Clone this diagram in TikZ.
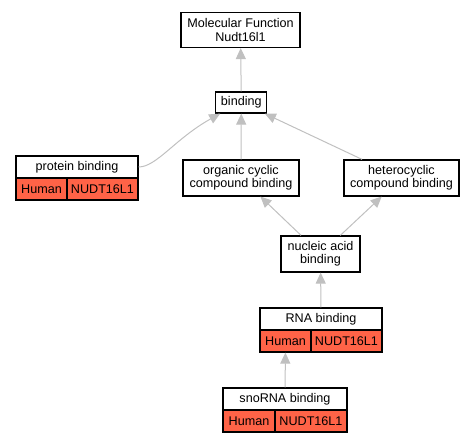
\documentclass[tikz,border=0pt]{standalone}
\usepackage{fontspec}
\setmainfont{Liberation Sans}
\usetikzlibrary{arrows.meta}
\definecolor{cellred}{HTML}{FF6347}
\definecolor{edgegray}{RGB}{192,192,192}
\begin{document}
\begin{tikzpicture}[x=1pt,y=-1pt,
		termbox/.style={draw,fill=white,line width=1.2pt,inner sep=0pt,align=center,
		font=\fontsize{12.6}{13.2}\selectfont},
		genecell/.style={termbox,fill=cellred,minimum height=22pt},
		isa/.style={draw=edgegray,line width=1pt,-{Triangle[length=11pt,width=10pt]}}
		]
	\useasboundingbox (0,0) rectangle (475,443);

	\node[termbox,minimum width=119pt,minimum height=35pt](G0) at (240.5,30){Molecular Function\\Nudt16l1};
	\node[termbox,minimum width=51pt,minimum height=21pt](G1) at (241.3,102.5){binding};
	\node[termbox,minimum width=122pt,minimum height=22pt](G2) at (77,167){protein binding};
	\node[genecell,minimum width=51pt](G2h) at (41.5,189){Human};
	\node[genecell,minimum width=71pt](G2g) at (102.5,189){NUDT16L1};
	\node[termbox,minimum width=116pt,minimum height=36pt](G3) at (241,178){organic cyclic\\compound binding};
	\node[termbox,minimum width=115pt,minimum height=36pt](G4) at (401.5,178){heterocyclic\\compound binding};
	\node[termbox,minimum width=79pt,minimum height=36pt](G5) at (320.5,254){nucleic acid\\binding};
	\node[termbox,minimum width=122pt,minimum height=22pt](G6) at (321,319){RNA binding};
	\node[genecell,minimum width=51pt](G6h) at (285.5,341){Human};
	\node[genecell,minimum width=71pt](G6g) at (346.5,341){NUDT16L1};
	\node[termbox,minimum width=124pt,minimum height=22pt](G7) at (285,399){snoRNA binding};
	\node[genecell,minimum width=52pt](G7h) at (249,421){Human};
	\node[genecell,minimum width=72pt](G7g) at (311,421){NUDT16L1};

	\draw[isa] (G1) -- (G0);
	\draw[isa] (G2.east) .. controls +(18,0) and +(-45,25) .. ([xshift=5pt]G1.south west);
	\draw[isa] (G3) -- (G1);
	\draw[isa] (G4) -- (G1);
	\draw[isa] (G5) -- (G3);
	\draw[isa] (G5) -- (G4);
	\draw[isa] (G6) -- (G5);
	\draw[isa] (G7) -- (G6h);
\end{tikzpicture}
\end{document}
